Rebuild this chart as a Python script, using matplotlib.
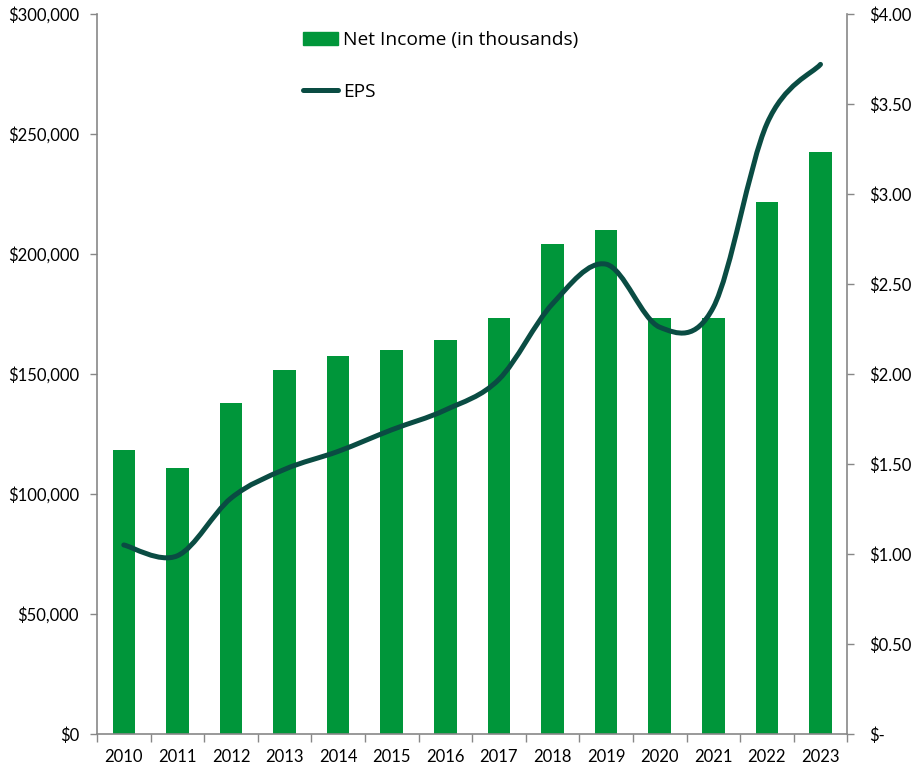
import numpy as np
import matplotlib
matplotlib.use('Agg')
import matplotlib.pyplot as plt
from matplotlib.path import Path
from matplotlib.patches import PathPatch, Patch
from matplotlib.lines import Line2D
from matplotlib.ticker import FuncFormatter, MultipleLocator

plt.rcParams['font.family'] = ['Lato', 'DejaVu Sans']

# Data
years = ['2010', '2011', '2012', '2013', '2014', '2015', '2016',
         '2017', '2018', '2019', '2020', '2021', '2022', '2023']
net_income = [118500, 111000, 138000, 151500, 157500, 160000, 164000,
              173500, 204000, 210000, 173500, 173500, 221500, 242500]
eps = [1.05, 0.99, 1.31, 1.47, 1.57, 1.69, 1.80,
       1.97, 2.39, 2.61, 2.26, 2.37, 3.39, 3.72]

bar_color = '#00963A'
line_color = '#0A4C43'
axis_color = '#878787'

fig = plt.figure(figsize=(9.15, 7.68), dpi=100)
ax = fig.add_axes([0.106, 0.0443, 0.82, 0.9375])
ax2 = ax.twinx()

x = np.arange(len(years))
ax.bar(x, net_income, width=0.42, color=bar_color, label='Net Income (in thousands)')

# smoothed EPS line (Catmull-Rom style bezier, like Excel's smoothed line)
pts = np.column_stack([x, eps]).astype(float)
ext = np.vstack([pts[0], pts, pts[-1]])
verts = [tuple(pts[0])]
codes = [Path.MOVETO]
for i in range(len(pts) - 1):
    p0, p1, p2, p3 = ext[i], ext[i + 1], ext[i + 2], ext[i + 3]
    c1 = p1 + (p2 - p0) / 6
    c2 = p2 - (p3 - p1) / 6
    verts += [tuple(c1), tuple(c2), tuple(p2)]
    codes += [Path.CURVE4] * 3
ax2.add_patch(PathPatch(Path(verts, codes), fill=False, edgecolor=line_color,
                        lw=3.6, capstyle='round', joinstyle='round'))

ax.set_xlim(-0.5, len(years) - 0.5)
ax.set_ylim(0, 300000)
ax2.set_ylim(0, 4)
ax.yaxis.set_major_locator(MultipleLocator(50000))
ax2.yaxis.set_major_locator(MultipleLocator(0.5))
ax.yaxis.set_major_formatter(FuncFormatter(lambda v, p: f'${v:,.0f}'))
ax2.yaxis.set_major_formatter(FuncFormatter(lambda v, p: '$-' if v == 0 else f'${v:.2f}'))

ax.set_xticks(x)
ax.set_xticklabels(years)
ax.set_xticks(np.arange(-0.5, len(years)), minor=True)
ax.tick_params(axis='x', which='major', length=0, pad=11, labelsize=12)
ax.tick_params(axis='x', which='minor', length=6, width=1, color=axis_color)
ax.tick_params(axis='y', length=5, width=1, color=axis_color, pad=8, labelsize=12)
ax2.tick_params(axis='y', length=5, width=1, color=axis_color, pad=11, labelsize=12)

for a in (ax, ax2):
    a.spines['top'].set_visible(False)
    for s in ('left', 'right', 'bottom'):
        a.spines[s].set_color(axis_color)
        a.spines[s].set_linewidth(1.2)
ax.spines['right'].set_visible(False)
ax2.spines['left'].set_visible(False)
ax2.spines['bottom'].set_visible(False)

handles = [Patch(color=bar_color),
           Line2D([], [], color=line_color, lw=3.6, solid_capstyle='round')]
labels = ['Net Income (in thousands)', 'EPS']
ax2.legend(handles, labels, loc='upper left', bbox_to_anchor=(0.251, 1.0),
           frameon=False, labelspacing=1.75, handlelength=1.85, handletextpad=0.25,
           prop={'family': ['Open Sans', 'DejaVu Sans'], 'size': 13.8})

fig.savefig('out.png', dpi=100)
